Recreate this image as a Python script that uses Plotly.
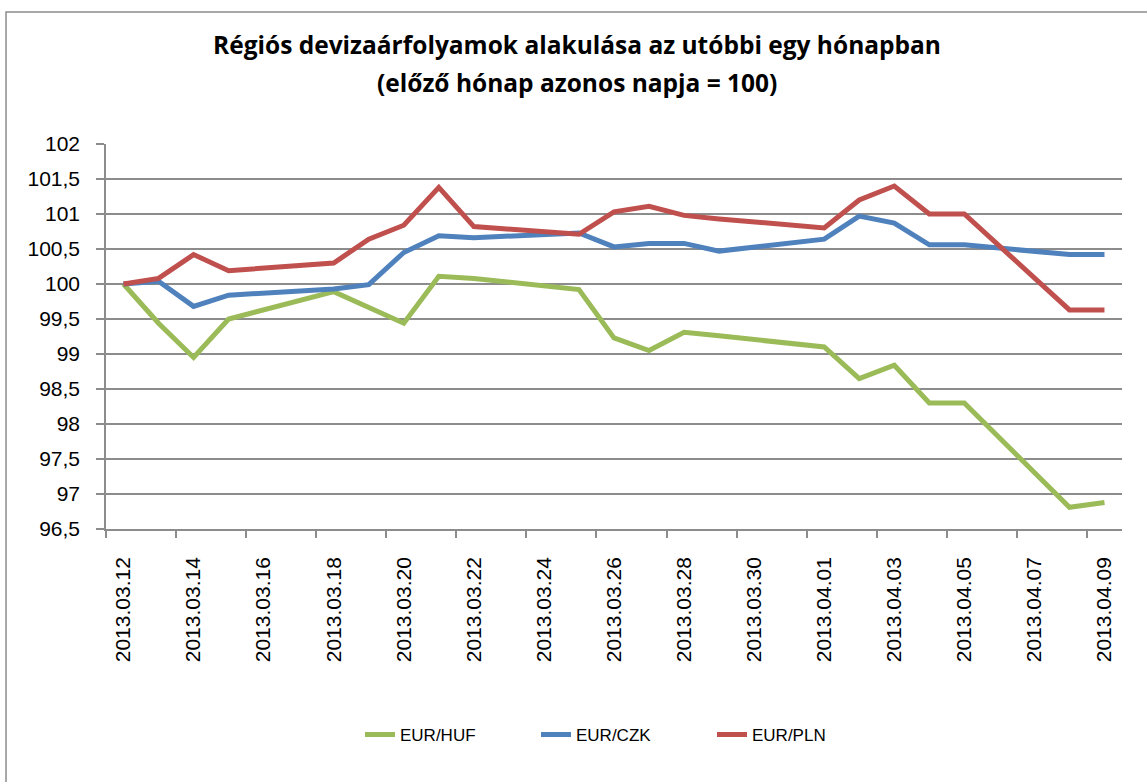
import plotly.graph_objects as go

dates = ["2013-03-12", "2013-03-13", "2013-03-14", "2013-03-15", "2013-03-18",
         "2013-03-19", "2013-03-20", "2013-03-21", "2013-03-22", "2013-03-25",
         "2013-03-26", "2013-03-27", "2013-03-28", "2013-03-29", "2013-04-01",
         "2013-04-02", "2013-04-03", "2013-04-04", "2013-04-05", "2013-04-08",
         "2013-04-09"]

eur_huf = [100.00, 99.44, 98.95, 99.50, 99.89, 99.66, 99.44, 100.11, 100.08, 99.92,
           99.23, 99.05, 99.31, 99.26, 99.10, 98.65, 98.84, 98.30, 98.30, 96.81, 96.88]
eur_czk = [100.00, 100.04, 99.68, 99.84, 99.93, 99.99, 100.45, 100.69, 100.66, 100.73,
           100.53, 100.58, 100.58, 100.47, 100.64, 100.97, 100.87, 100.56, 100.56, 100.42, 100.42]
eur_pln = [100.00, 100.08, 100.42, 100.19, 100.30, 100.64, 100.84, 101.38, 100.82, 100.71,
           101.03, 101.11, 100.98, 100.93, 100.80, 101.20, 101.40, 101.00, 101.00, 99.63, 99.63]

series_names = ["EUR/HUF", "EUR/CZK", "EUR/PLN"]
series_colors = ["#9BBB59", "#4F81BD", "#C0504D"]

x_tick_vals = ["2013-03-12", "2013-03-14", "2013-03-16", "2013-03-18", "2013-03-20",
               "2013-03-22", "2013-03-24", "2013-03-26", "2013-03-28", "2013-03-30",
               "2013-04-01", "2013-04-03", "2013-04-05", "2013-04-07", "2013-04-09"]
x_tick_text = ["2013.03.12", "2013.03.14", "2013.03.16", "2013.03.18", "2013.03.20",
               "2013.03.22", "2013.03.24", "2013.03.26", "2013.03.28", "2013.03.30",
               "2013.04.01", "2013.04.03", "2013.04.05", "2013.04.07", "2013.04.09"]
y_tick_vals = [96.5, 97, 97.5, 98, 98.5, 99, 99.5, 100, 100.5, 101, 101.5, 102]
y_tick_text = ["96,5", "97", "97,5", "98", "98,5", "99", "99,5", "100", "100,5", "101", "101,5", "102"]

title_line1 = "Régiós devizaárfolyamok alakulása az utóbbi egy hónapban"
title_line2 = "(előző hónap azonos napja = 100)"

GRID = "#8C8C8C"
TICKFONT = dict(family="Liberation Sans, Arial, sans-serif", size=21, color="#000000")
TITLEFONT = dict(family="Open Sans, sans-serif", size=24.5, color="#000000")

fig = go.Figure()
for name, vals, col in zip(series_names, [eur_huf, eur_czk, eur_pln], series_colors):
    fig.add_trace(go.Scatter(x=dates, y=vals, mode="lines", name=name,
                             line=dict(color=col, width=5)))

fig.update_layout(
    width=1147, height=782,
    margin=dict(l=106, r=25, t=144, b=253, autoexpand=False),
    paper_bgcolor="white", plot_bgcolor="white",
    showlegend=True,
    legend=dict(orientation="h", x=0.25, xanchor="left", y=-0.535, yanchor="middle",
                font=dict(family="Liberation Sans, Arial, sans-serif", size=17, color="#000000"),
                entrywidth=131, entrywidthmode="pixels", bgcolor="rgba(0,0,0,0)"),
    annotations=[
        dict(text="<b>" + title_line1 + "</b>", xref="paper", yref="paper", x=0.4636, y=1.258,
             xanchor="center", yanchor="middle", showarrow=False, font=TITLEFONT),
        dict(text="<b>" + title_line2 + "</b>", xref="paper", yref="paper", x=0.4636, y=1.159,
             xanchor="center", yanchor="middle", showarrow=False, font=TITLEFONT),
    ],
    shapes=[dict(type="rect", xref="paper", yref="paper", x0=-0.0984, x1=1.05, y0=-0.75, y1=1.343,
                 line=dict(color="#8C8C8C", width=1.5), fillcolor="rgba(0,0,0,0)", layer="below")],
)

fig.update_xaxes(
    type="date", range=["2013-03-11 12:00", "2013-04-09 12:00"],
    tickmode="array", tickvals=x_tick_vals, ticktext=x_tick_text, tickangle=-90,
    ticks="outside", ticklen=18, tickcolor="rgba(0,0,0,0)",
    tickfont=TICKFONT, showgrid=False, showline=True, linecolor=GRID, linewidth=1.5,
    minor=dict(ticks="outside", ticklen=7, tickcolor=GRID, tickwidth=1.5,
               tick0="2013-03-11 12:00", dtick=2 * 86400000, showgrid=False),
    zeroline=False,
)
fig.update_yaxes(
    range=[96.5, 102], tickmode="array", tickvals=y_tick_vals, ticktext=y_tick_text,
    ticks="outside", ticklen=8, tickcolor=GRID, tickwidth=1.5, ticklabelstandoff=12,
    tickfont=TICKFONT, showgrid=True, gridcolor=GRID, gridwidth=1.5,
    showline=True, linecolor=GRID, linewidth=1.5, zeroline=False,
)

fig.write_html("out.html", config={"displayModeBar": False},
               post_script="document.body.style.margin='0';")
